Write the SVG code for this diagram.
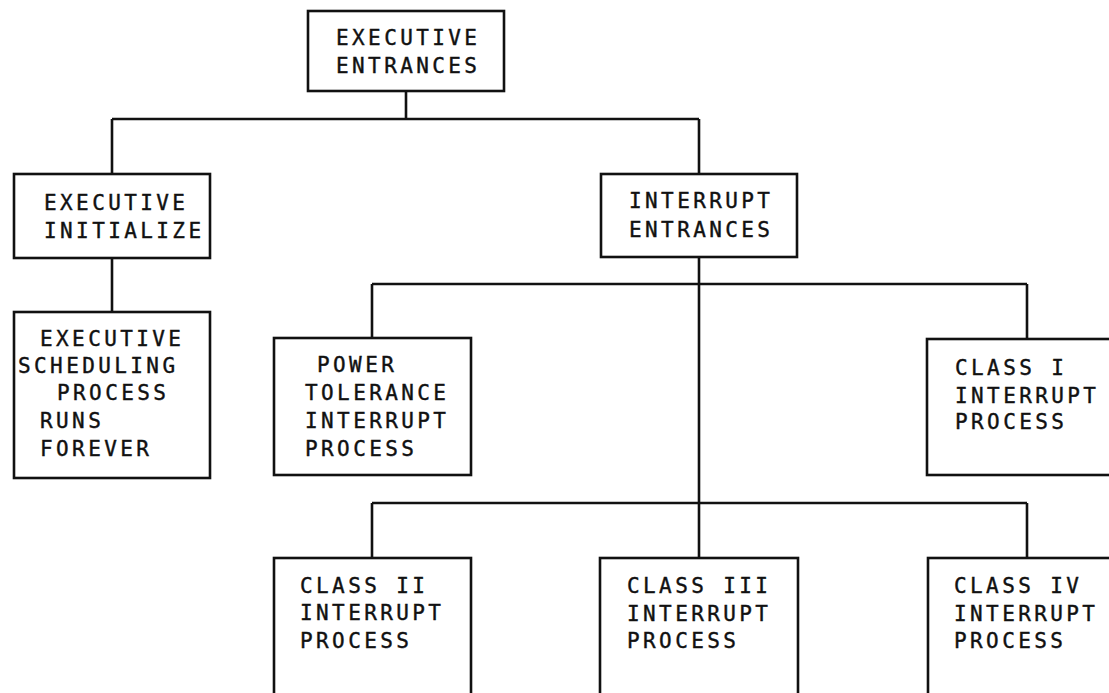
<svg xmlns="http://www.w3.org/2000/svg" width="1109" height="693" viewBox="0 0 1109 693">
<style>
.box{fill:none;stroke:#111;stroke-width:2.6}
.ln{fill:none;stroke:#111;stroke-width:2.6}
text{font-family:"DejaVu Sans Mono","Liberation Mono",monospace;font-size:21px;letter-spacing:3.4px;fill:#111;stroke:#111;stroke-width:0.4}
</style>
<rect width="1109" height="693" fill="#fff"/>
<g id="connectors">
<path class="ln" d="M406,91 V119 M112,119 H699 M112,119 V174 M699,119 V174"/>
<path class="ln" d="M112,258 V312"/>
<path class="ln" d="M699,257 V558 M372,284 H1027 M372,284 V338 M1027,284 V339"/>
<path class="ln" d="M372,503 H1027 M372,503 V558 M1027,503 V558"/>
</g>
<g id="executive-entrances">
<rect class="box" x="308" y="11" width="196" height="80"/>
<text x="336" y="45">EXECUTIVE</text>
<text x="336" y="73">ENTRANCES</text>
</g>
<g id="executive-initialize">
<rect class="box" x="14" y="174" width="196" height="84"/>
<text x="44" y="210">EXECUTIVE</text>
<text x="44" y="238">INITIALIZE</text>
</g>
<g id="interrupt-entrances">
<rect class="box" x="601" y="174" width="196" height="83"/>
<text x="629" y="208">INTERRUPT</text>
<text x="629" y="237">ENTRANCES</text>
</g>
<g id="executive-scheduling">
<rect class="box" x="14" y="312" width="196" height="166"/>
<text x="40" y="346">EXECUTIVE</text>
<text x="18" y="373">SCHEDULING</text>
<text x="57" y="400">PROCESS</text>
<text x="40" y="428">RUNS</text>
<text x="40" y="456">FOREVER</text>
</g>
<g id="power-tolerance">
<rect class="box" x="274" y="338" width="197" height="137"/>
<text x="317" y="372">POWER</text>
<text x="305" y="400">TOLERANCE</text>
<text x="305" y="428">INTERRUPT</text>
<text x="305" y="456">PROCESS</text>
</g>
<g id="class-i">
<rect class="box" x="927" y="339" width="200" height="136"/>
<text x="955" y="375">CLASS I</text>
<text x="955" y="403">INTERRUPT</text>
<text x="955" y="429">PROCESS</text>
</g>
<g id="class-ii">
<rect class="box" x="274" y="558" width="197" height="150"/>
<text x="300" y="593">CLASS II</text>
<text x="300" y="620">INTERRUPT</text>
<text x="300" y="648">PROCESS</text>
</g>
<g id="class-iii">
<rect class="box" x="600" y="558" width="198" height="150"/>
<text x="627" y="593">CLASS III</text>
<text x="627" y="621">INTERRUPT</text>
<text x="627" y="648">PROCESS</text>
</g>
<g id="class-iv">
<rect class="box" x="928" y="558" width="200" height="150"/>
<text x="954" y="593">CLASS IV</text>
<text x="954" y="621">INTERRUPT</text>
<text x="954" y="648">PROCESS</text>
</g>
</svg>
